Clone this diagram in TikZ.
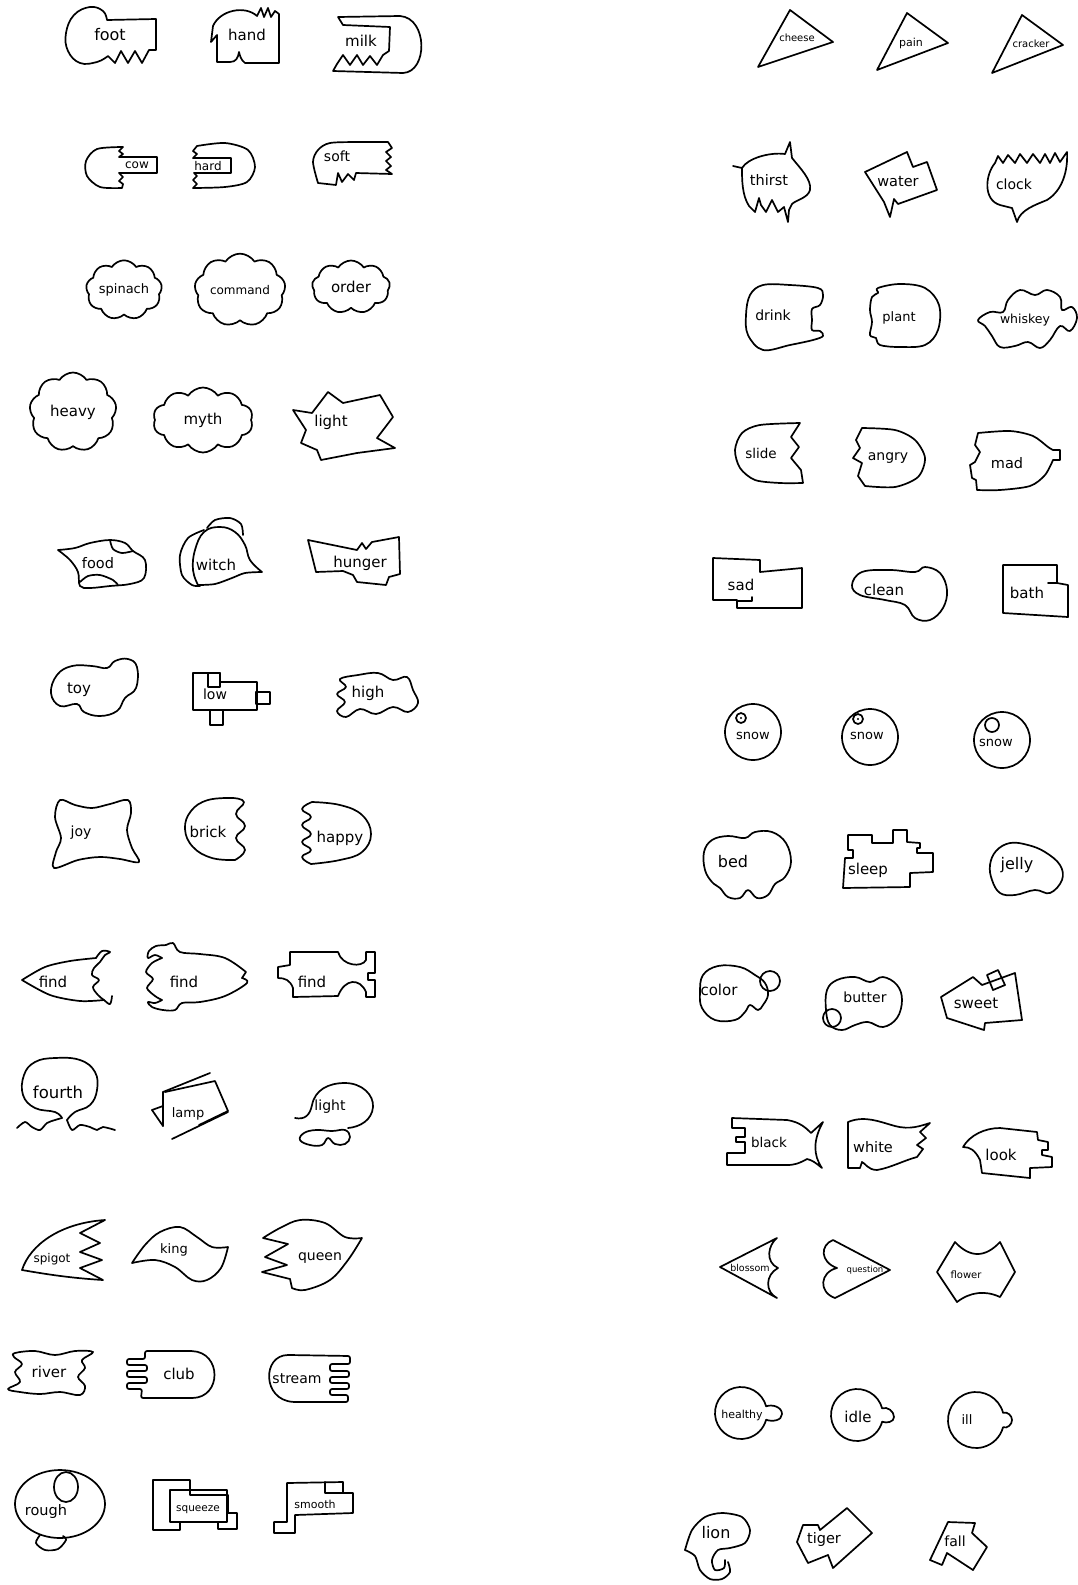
\documentclass[tikz,border=0pt]{standalone}
\usepackage{fontspec}
\newfontfamily\hand{DejaVu Sans}
\usetikzlibrary{shapes.symbols}
\tikzset{
 sh/.style={draw=black, line width=1.7pt, line join=round, line cap=round},
 lab/.style={font=\hand\fontsize{#1}{#1}\selectfont, inner sep=0pt},
 lab/.default=14,
 cl/.style={cloud, sh, cloud puffs=#1, cloud puff arc=115, inner sep=0pt},
}
\begin{document}
\begin{tikzpicture}[x=1pt,y=-1pt]
\useasboundingbox (0,0) rectangle (1078,1585);
\fill[white] (0,0) rectangle (1078,1585);
% ---------------- LEFT COLUMN ----------------
% row 1
\draw[sh] (107,20) -- (156,19) -- (156,50) -- (149,50) -- (142,63) -- (135,51) -- (128,63) -- (121,51) -- (115,63) -- (108,56) -- plot[smooth, tension=0.7] coordinates {(108,56) (97,62) (80,63) (68,51) (66,33) (74,15) (90,7) (103,11) (107,20)};
\node[lab=16] (foot) at (110,35) {foot};
\draw[sh] (217,62) -- (217,35) -- (211,42) -- (213,26) .. controls (220,10) and (245,5) .. (257,16) -- (261,8) -- (264,17) -- (268,8) -- (271,17) -- (275,11) -- (279,14) -- (279,63) -- (245,63) .. controls (241,60) and (240,56) .. (239,52) .. controls (238,58) and (236,62) .. (230,62) -- cycle;
\node[lab=15] (hand) at (247,35) {hand};
\draw[sh] (338,17) -- (400,16) .. controls (428,18) and (428,72) .. (403,73) -- (333,71) -- (337,64) -- (343,55) -- (350,65) -- (357,55) -- (363,65) -- (370,56) -- (377,65) -- (383,55) -- (389,51) -- (390,27) -- (343,25) -- cycle;
\node[lab=15] (milk) at (361,41) {milk};
% row 2
\draw[sh] (123,147) -- (119,151) -- (123,154) -- (119,157) -- (157,157) -- (157,173) -- (119,173) -- (123,177) -- (119,181) -- (123,184) -- (122,188) -- plot[smooth] coordinates {(122,188) (100,187) (87,176) (86,161) (97,149) (123,147)};
\node[lab=12] (cow) at (137,165) {cow};
\draw[sh] plot[smooth] coordinates {(197,146) (225,143) (248,150) (255,167) (247,182) (225,187) (193,188)} -- (197,184) -- (193,180) -- (197,176) -- (194,173) -- (231,173) -- (231,158) -- (193,158) -- (197,154) -- (193,151) -- cycle;
\node[lab=12] (hard2) at (208,166) {hard};
\draw[sh] plot[smooth] coordinates {(318,183) (313,162) (318,150) (330,143) (360,142) (388,142)} -- (392,148) -- (386,152) -- (391,157) -- (386,161) -- (391,166) -- (386,170) -- (392,174) -- (356,173) -- (354,180) -- (348,174) -- (342,182) -- (338,173) -- (336,185) -- cycle;
\node[lab=14] (soft) at (337,156) {soft};
% row 3 clouds
\node[cl=9, lab=13, aspect=1.45, minimum width=75pt, minimum height=52pt] (spinach) at (124,290) {spinach};
\node[cl=9, lab=12, aspect=1.4, minimum width=75pt, minimum height=54pt] (command) at (240,290) {command};
\node[cl=9, lab=15, aspect=1.45, minimum width=78pt, minimum height=53pt] (order) at (351,287) {order};
% row 4
\node[cl=9, lab=15, aspect=1.1, minimum width=87pt, minimum height=79pt] (heavy) at (73,412) {heavy};
\node[cl=10, lab=15, aspect=1.55, minimum width=100pt, minimum height=65pt] (myth) at (203,420) {myth};
\draw[sh] (293,410) -- (312,413) -- (328,392) -- (343,403) -- (380,395) -- (393,417) -- (377,438) -- (395,448) -- (357,453) -- (321,460) -- (317,450) -- (301,443) -- (306,430) -- cycle;
\node[lab=15] (light1) at (331,422) {light};
% row 5
\draw[sh] plot[smooth, tension=0.6] coordinates {(58,550) (75,548) (90,543) (110,540) (125,543) (133,551) (145,560) (144,578) (130,584) (110,586) (90,588) (80,586) (78,572) (70,560) (58,550)};
\draw[sh] plot[smooth] coordinates {(110,540) (113,549) (122,553) (133,551)};
\draw[sh] plot[smooth] coordinates {(80,582) (88,576) (100,575) (113,580) (118,585)};
\node[lab=14.5] (food) at (98,563) {food};
\draw[sh] plot[smooth, tension=0.7] coordinates {(262,572) (250,560) (245,545) (235,532) (220,527) (204,532) (195,550) (193,570) (198,585)} -- plot[smooth] coordinates {(198,585) (215,584) (232,578) (245,573) (262,572)};
\draw[sh] plot[smooth] coordinates {(204,530) (188,538) (180,555) (182,575) (192,585) (200,586)};
\draw[sh] plot[smooth] coordinates {(207,528) (215,520) (230,518) (241,524) (243,535)};
\node[lab=15] (witch) at (216,565) {witch};
\draw[sh] (308,540) -- (357,550) -- (362,543) -- (366,549) -- (372,542) -- (399,537) -- (400,574) -- (389,577) -- (386,585) -- (357,582) -- (353,575) -- (343,571) -- (316,572) -- (313,560) -- cycle;
\node[lab=15] (hunger) at (360,563) {hunger};
% row 6
\draw[sh] plot[smooth cycle, tension=0.7] coordinates {(51,693) (57,675) (72,666) (92,666) (107,668) (115,661) (128,659) (137,667) (136,688) (125,698) (117,711) (100,716) (84,712) (77,704) (60,706)};
\node[lab=15] (toy) at (79,690) {toy};
\draw[sh] (193,673) -- (220,673) -- (220,682) -- (257,682) -- (257,710) -- (193,710) -- cycle;
\draw[sh] (208,673) rectangle (220,687);
\draw[sh] (256,692) rectangle (270,704);
\draw[sh] (210,710) rectangle (223,725);
\node[lab=14] (low) at (215,694) {low};
\draw[sh] plot[smooth cycle, tension=0.65] coordinates {(340,679) (358,675) (378,673) (393,680) (407,677) (413,690) (418,703) (408,712) (393,707) (376,714) (360,709) (346,717) (337,711) (345,702) (337,694) (346,687)};
\node[lab=15] (high) at (368,693) {high};
% row 7
\draw[sh] plot[smooth cycle, tension=0.55] coordinates {(60,800) (75,805) (92,808) (110,804) (128,800) (131,813) (127,830) (132,848) (139,862) (120,859) (100,857) (78,860) (54,868) (56,852) (61,838) (55,817)};
\node[lab=14] (joy) at (81,833) {joy};
\draw[sh] plot[smooth, tension=0.7] coordinates {(235,860) (212,858) (193,847) (185,829) (191,811) (208,800) (233,798)} -- plot[smooth, tension=0.8] coordinates {(233,798) (244,802) (236,814) (245,826) (236,838) (245,850) (235,860)};
\node[lab=15] (brick) at (208,832) {brick};
\draw[sh] plot[smooth, tension=0.7] coordinates {(312,802) (340,805) (362,815) (371,834) (362,852) (340,860) (311,864)} -- plot[smooth, tension=0.8] coordinates {(311,864) (302,857) (311,850) (302,842) (311,834) (302,825) (311,817) (302,809) (312,802)};
\node[lab=15] (happy) at (340,838) {happy};
% row 8
\draw[sh] plot[smooth] coordinates {(104,1000) (80,1001) (50,995) (22,980)} -- plot[smooth] coordinates {(22,980) (45,967) (70,961) (96,958)};
\draw[sh] plot[smooth, tension=0.6] coordinates {(96,958) (102,951) (110,952) (105,955) (100,962) (94,968) (92,975) (99,980) (93,987) (98,995) (104,1000) (110,1004) (112,996)};
\node[lab=15] (find1) at (53,982) {find};
\draw[sh] plot[smooth, tension=0.6] coordinates {(162,958) (155,955) (148,958) (149,951) (156,946) (166,945) (173,943) (180,952) (200,954) (225,958) (246,972)} -- (242,978) -- plot[smooth, tension=0.6] coordinates {(242,978) (247,983) (225,996) (200,1002) (182,1003) (175,1010) (163,1010) (152,1007) (148,1002) (155,1003) (162,1000)};
\draw[sh] plot[smooth] coordinates {(162,958) (152,963) (146,972) (153,979) (147,988) (155,996) (162,1000)};
\node[lab=15] (find2) at (184,982) {find};
\draw[sh] (290,952) -- (338,952) .. controls (342,966) and (362,968) .. (366,960) -- (366,952) -- (375,952) -- (375,973) -- (368,973) -- (368,980) -- (375,980) -- (375,997) -- (366,997) -- (366,992) .. controls (360,978) and (345,978) .. (338,996) -- (293,997) -- (293,988) .. controls (290,980) and (285,978) .. (278,978) -- (278,967) -- (290,965) -- cycle;
\node[lab=15] (find3) at (312,982) {find};
% row 9
\draw[sh] plot[smooth, tension=0.7] coordinates {(62,1118) (55,1112) (35,1108) (23,1095) (24,1075) (35,1062) (55,1058) (80,1060) (95,1072) (97,1090) (90,1105) (75,1112) (67,1120)};
\draw[sh] plot[smooth] coordinates {(62,1118) (55,1120) (47,1123) (40,1130) (32,1127) (25,1122) (17,1128)};
\draw[sh] plot[smooth] coordinates {(67,1120) (72,1130) (80,1125) (90,1127) (97,1130) (103,1127) (115,1130)};
\node[lab=16.5] (fourth) at (58,1092) {fourth};
\draw[sh] (163,1092) -- (210,1073);
\draw[sh] (165,1092) -- (215,1081) -- (228,1111) -- (199,1125);
\draw[sh] (163,1092) -- (163,1126);
\draw[sh] (152,1110) -- (163,1126);
\draw[sh] (152,1110) -- (163,1106);
\draw[sh] (172,1139) -- (228,1112);
\node[lab=13] (lamp) at (188,1114) {lamp};
\draw[sh] (295,1118) .. controls (305,1120) and (310,1115) .. (312,1105) .. controls (315,1090) and (328,1083) .. (345,1083) .. controls (362,1083) and (374,1095) .. (373,1107) .. controls (372,1120) and (360,1127) .. (348,1128);
\draw[sh] plot[smooth cycle, tension=0.7] coordinates {(300,1140) (304,1133) (316,1130) (332,1131) (345,1130) (350,1137) (345,1144) (335,1144) (328,1138) (322,1145) (310,1145)};
\node[lab=14] (light2) at (330,1107) {light};
% row 10
\draw[sh] (22,1270) .. controls (30,1245) and (60,1223) .. (105,1220) -- (80,1233) -- (100,1243) -- (80,1252) -- (102,1260) -- (80,1268) -- (103,1280) .. controls (70,1278) and (45,1274) .. cycle;
\node[lab=12] (spigot) at (52,1259) {spigot};
\draw[sh] plot[smooth, tension=0.6] coordinates {(132,1263) (145,1245) (160,1232) (180,1227) (197,1237) (212,1247) (228,1247)} -- plot[smooth, tension=0.6] coordinates {(228,1247) (221,1268) (207,1280) (192,1280) (175,1267) (155,1260) (132,1263)};
\node[lab=13] (king) at (174,1250) {king};
\draw[sh] (263,1238) -- (288,1244) -- (265,1257) -- (287,1265) -- (262,1272) -- (290,1279) -- (292,1288) -- plot[smooth, tension=0.6] coordinates {(292,1288) (305,1290) (330,1280) (348,1260) (362,1238)} -- plot[smooth, tension=0.6] coordinates {(362,1238) (345,1237) (325,1223) (300,1220) (280,1228) (263,1238)};
\node[lab=14] (queen) at (320,1258) {queen};
% row 11
\draw[sh] plot[smooth cycle, tension=0.6] coordinates {(15,1353) (35,1351) (55,1355) (75,1351) (93,1352) (82,1360) (85,1368) (78,1377) (85,1386) (80,1395) (60,1392) (40,1394) (20,1392) (8,1389) (20,1382) (15,1372) (22,1364) (14,1357)};
\node[lab=15] (river) at (49,1372) {river};
\draw[sh, rounded corners=2pt] (145,1351) -- (190,1351) .. controls (222,1352) and (222,1398) .. (190,1398) -- (141,1398) -- (142,1389) -- (127,1389) -- (127,1383) -- (147,1383) -- (147,1377) -- (127,1377) -- (127,1371) -- (147,1371) -- (147,1365) -- (127,1365) -- (127,1359) -- (145,1359) -- cycle;
\node[lab=15] (club) at (179,1374) {club};
\draw[sh, rounded corners=2pt] (350,1356) -- (290,1355) .. controls (262,1355) and (262,1400) .. (295,1402) -- (348,1402) -- (348,1395) -- (330,1395) -- (330,1389) -- (349,1389) -- (349,1383) -- (330,1383) -- (330,1377) -- (349,1377) -- (349,1371) -- (330,1371) -- (330,1364) -- (350,1364) -- cycle;
\node[lab=14] (stream) at (297,1379) {stream};
% row 12
\draw[sh] (60,1504) ellipse [x radius=45pt, y radius=34pt];
\draw[sh] (66,1487) ellipse [x radius=12pt, y radius=15pt];
\draw[sh] plot[smooth] coordinates {(40,1535) (36,1543) (45,1550) (58,1549) (66,1540) (63,1536)};
\node[lab=14.5] (rough) at (46,1511) {rough};
\draw[sh] (153,1480) -- (190,1480) -- (190,1495) -- (228,1495) -- (228,1513) -- (237,1513) -- (237,1529) -- (218,1529) -- (218,1522) -- (180,1522) -- (180,1530) -- (153,1530) -- cycle;
\draw[sh] (170,1490) rectangle (227,1522);
\node[lab=10.5] (squeeze) at (198,1510) {squeeze};
\draw[sh] (287,1483) -- (343,1482) -- (343,1493) -- (353,1493) -- (353,1513) -- (295,1515) -- (295,1533) -- (274,1533) -- (274,1522) -- (287,1522) -- cycle;
\draw[sh] (325,1482) -- (325,1493) -- (343,1493);
\node[lab=11] (smooth) at (315,1504) {smooth};
% ---------------- RIGHT COLUMN ----------------
% row 1
\draw[sh] (790,10) -- (833,42) -- (758,67) -- cycle;
\node[lab=10] (cheese) at (797,38) {cheese};
\draw[sh] (907,13) -- (948,43) -- (877,70) -- cycle;
\node[lab=11] (pain) at (911,43) {pain};
\draw[sh] (1022,15) -- (1063,45) -- (992,73) -- cycle;
\node[lab=10] (cracker) at (1031,44) {cracker};
% row 2
\draw[sh] (733,166) -- (742,168) .. controls (748,158) and (770,152) .. (785,154) -- (790,142) -- (792,158) .. controls (800,168) and (812,180) .. (810,190) .. controls (808,198) and (796,200) .. (792,204) -- (789,210) -- (788,222) -- (784,207) -- (778,212) -- (772,200) -- (766,212) -- (761,205) -- (759,198) -- (755,212) -- (749,206) .. controls (742,195) and (742,180) .. (742,168);
\node[lab=14.5] (thirst) at (769,180) {thirst};
\draw[sh] (865,172) -- (907,152) -- (913,167) -- (927,162) -- (937,190) -- (898,204) -- (894,199) -- (890,217) -- (884,202) -- cycle;
\node[lab=14.5] (water) at (898,182) {water};
\draw[sh] (995,163) .. controls (985,175) and (983,200) .. (1000,205) -- (1012,208) -- (1017,222) .. controls (1020,210) and (1035,205) .. (1047,200) .. controls (1063,190) and (1068,170) .. (1067,152) -- (1060,162) -- (1055,153) -- (1050,163) -- (1045,154) -- (1040,163) -- (1033,154) -- (1027,163) -- (1020,154) -- (1015,163) -- (1008,155) -- (1003,163) -- (998,156) -- cycle;
\node[lab=14] (clock) at (1014,184) {clock};
% row 3
\draw[sh] plot[smooth cycle, tension=0.6] coordinates {(812,320) (812,309) (820,305) (823,295) (818,288) (790,285) (763,285) (750,295) (746,315) (748,335) (763,350) (790,345) (813,340) (823,336) (820,331) (812,330)};
\node[lab=14] (drink) at (773,315) {drink};
\draw[sh] plot[smooth cycle, tension=0.6] coordinates {(878,288) (900,284) (925,288) (939,305) (938,330) (925,345) (900,347) (880,345) (876,338) (870,335) (872,322) (870,310) (872,297) (878,293)};
\node[lab=13] (plant) at (899,318) {plant};
\draw[sh] plot[smooth cycle, tension=0.65] coordinates {(978,320) (990,312) (1003,312) (1008,300) (1020,290) (1035,295) (1047,290) (1060,297) (1062,310) (1072,307) (1077,318) (1070,331) (1060,326) (1050,340) (1040,348) (1028,342) (1015,346) (1000,347) (992,336) (985,326)};
\node[lab=12.5] (whiskey) at (1025,320) {whiskey};
% row 4
\draw[sh] plot[smooth] coordinates {(803,483) (780,483) (755,480) (740,468) (735,450) (742,433) (760,425) (800,423)} -- (791,437) -- (799,447) -- (791,458) -- (801,470) -- (803,483);
\node[lab=13.5] (slide) at (761,453) {slide};
\draw[sh] plot[smooth] coordinates {(862,428) (895,430) (915,440) (925,458) (918,477) (895,487) (865,486)} -- (858,476) -- (862,463) -- (853,458) -- (860,448) -- (856,440) -- cycle;
\node[lab=14] (angry) at (888,458) {angry};
\draw[sh] plot[smooth] coordinates {(978,433) (1010,431) (1033,436) (1048,447) (1053,450)} -- (1060,450) -- (1060,460) -- (1053,460) -- plot[smooth] coordinates {(1053,460) (1045,475) (1030,486) (1000,490) (977,490)} -- (976,480) -- (972,478) -- (970,465) -- (975,462) -- (980,452) -- (975,445) -- cycle;
\node[lab=14.5] (mad) at (1007,463) {mad};
% row 5
\draw[sh] (713,558) -- (760,560) -- (760,572) -- (802,568) -- (802,608) -- (737,608) -- (737,600) -- (713,600) -- cycle;
\draw[sh] (737,601) -- (752,601) -- (752,597);
\node[lab=15] (sad) at (741,585) {sad};
\draw[sh] plot[smooth cycle, tension=0.65] coordinates {(852,585) (862,572) (890,570) (915,572) (925,567) (940,573) (947,590) (943,608) (930,620) (915,618) (905,605) (885,600) (860,595)};
\node[lab=15] (clean) at (884,590) {clean};
\draw[sh] (1003,565) -- (1057,565) -- (1057,583) -- (1068,585) -- (1068,617) -- (1003,613) -- cycle;
\draw[sh] (1048,583) -- (1057,583);
\node[lab=15] (bath) at (1027,593) {bath};
% row 6
\draw[sh] (753,732) circle[radius=28pt];
\draw[sh] (741,718) circle[radius=5pt];
\fill (741,718) circle[radius=1.2pt];
\node[lab=13] (snow1) at (753,736) {snow};
\draw[sh] (870,737) circle[radius=28pt];
\draw[sh] (858,719) circle[radius=5pt];
\fill (858,719) circle[radius=1.2pt];
\node[lab=13] (snow2) at (867,736) {snow};
\draw[sh] (1002,740) circle[radius=28pt];
\draw[sh] (992,725) circle[radius=7pt];
\node[lab=13] (snow3) at (996,743) {snow};
% row 7
\draw[sh] plot[smooth cycle, tension=0.65] coordinates {(705,870) (704,852) (712,840) (728,836) (745,838) (755,832) (772,832) (786,843) (791,862) (785,877) (775,884) (768,895) (757,898) (748,890) (740,898) (728,897) (720,888) (712,882)};
\node[lab=16] (bed) at (733,862) {bed};
\draw[sh] (843,888) -- (845,858) -- (853,858) -- (853,850) -- (848,850) -- (848,835) -- (872,835) -- (872,843) -- (893,843) -- (893,830) -- (907,830) -- (907,842) -- (920,843) -- (920,848) -- (917,848) -- (917,853) -- (933,853) -- (933,872) -- (910,873) -- (910,887) -- cycle;
\node[lab=15] (sleep) at (868,870) {sleep};
\draw[sh] plot[smooth cycle, tension=0.65] coordinates {(992,880) (990,865) (996,851) (1010,843) (1028,845) (1045,852) (1060,865) (1062,880) (1050,893) (1035,890) (1015,895) (1000,893)};
\node[lab=16] (jelly) at (1017,865) {jelly};
% row 8
\draw[sh] plot[smooth cycle, tension=0.65] coordinates {(700,992) (703,975) (718,966) (740,967) (755,975) (765,983) (768,995) (763,1005) (758,1010) (750,1005) (745,1012) (735,1020) (715,1020) (702,1008)};
\draw[sh] (770,981) circle[radius=10pt];
\node[lab=15] (color) at (719,990) {color};
\draw[sh] plot[smooth cycle, tension=0.65] coordinates {(826,1010) (827,990) (837,980) (855,977) (870,982) (883,977) (897,985) (902,1000) (897,1018) (883,1027) (868,1022) (855,1025) (842,1030) (830,1025)};
\draw[sh] (832,1018) circle[radius=9pt];
\node[lab=14] (butter) at (865,997) {butter};
\draw[sh] (941,997) -- (973,977) -- (982,985) -- (1015,973) -- (1022,1020) -- (985,1023) -- (984,1030) -- (947,1018) -- cycle;
\draw[sh] (987,975) -- (998,970) -- (1005,985) -- (993,990) -- cycle;
\node[lab=15] (sweet) at (976,1003) {sweet};
% row 9
\draw[sh] (732,1118) -- (787,1120) .. controls (800,1122) and (806,1128) .. (811,1133) -- (823,1122) .. controls (813,1140) and (813,1155) .. (822,1168) .. controls (816,1163) and (812,1160) .. (807,1159) .. controls (800,1163) and (795,1165) .. (787,1165) -- (727,1165) -- (727,1153) -- (745,1153) -- (745,1142) -- (736,1142) -- (736,1137) -- (745,1137) -- (745,1128) -- (732,1128) -- cycle;
\node[lab=13.5] (black) at (769,1142) {black};
\draw[sh] (848,1168) -- (848,1122) .. controls (865,1115) and (880,1122) .. (895,1126) .. controls (910,1130) and (920,1126) .. (930,1123) -- (920,1132) -- (926,1138) -- (917,1145) -- (923,1149) -- (917,1157) .. controls (905,1160) and (890,1168) .. (877,1170) .. controls (868,1170) and (865,1163) .. (862,1162) -- (860,1168) -- cycle;
\node[lab=14.5] (white) at (873,1147) {white};
\draw[sh] (963,1147) .. controls (970,1135) and (985,1128) .. (1000,1128) -- (1037,1132) -- (1038,1140) -- (1048,1142) -- (1048,1150) -- (1042,1150) -- (1042,1155) -- (1052,1157) -- (1052,1167) -- (1030,1168) -- (1030,1178) -- (982,1173) -- (980,1160) .. controls (975,1150) and (970,1147) .. cycle;
\node[lab=15] (look) at (1001,1155) {look};
% row 10
\draw[sh] (720,1267) -- (777,1238) .. controls (768,1245) and (765,1262) .. (778,1268) .. controls (765,1275) and (765,1292) .. (777,1298) -- cycle;
\node[lab=9.5] (blossom) at (750,1268) {blossom};
\draw[sh] (833,1240) -- (890,1270) -- (835,1298) .. controls (818,1292) and (820,1272) .. (837,1268) .. controls (820,1262) and (820,1245) .. cycle;
\node[lab=8.5] (question) at (865,1270) {question};
\draw[sh] (937,1272) -- (955,1242) .. controls (970,1258) and (985,1258) .. (1000,1242) -- (1015,1272) -- (1000,1297) .. controls (985,1290) and (970,1292) .. (957,1302) -- cycle;
\node[lab=10] (flower) at (966,1275) {flower};
% row 11
\draw[sh] (741,1413) ++(15:26pt) arc[start angle=15, end angle=345, radius=26pt] to[out=-20,in=-90] (782,1414) to[out=90,in=20] (766.1,1406.3) -- cycle;
\node[lab=11] (healthy) at (742,1415) {healthy};
\draw[sh] (857,1415) ++(15:26pt) arc[start angle=15, end angle=345, radius=26pt] to[out=-20,in=-90] (894,1417) to[out=90,in=20] (882.1,1408.3) -- cycle;
\node[lab=15] (idle) at (858,1417) {idle};
\draw[sh] (976,1420) ++(15:28pt) arc[start angle=15, end angle=345, radius=28pt] to[out=-20,in=-90] (1012,1420) to[out=90,in=20] (1003.0,1412.8) -- cycle;
\node[lab=13] (ill) at (967,1420) {ill};
% row 12
\draw[sh] plot[smooth] coordinates {(685,1550) (692,1530) (705,1517) (722,1513) (742,1517) (750,1530) (745,1543) (730,1548) (718,1550) (712,1560) (715,1570) (724,1568) (725,1560)};
\draw[sh] plot[smooth] coordinates {(685,1550) (695,1556) (700,1570) (710,1579) (722,1579) (730,1572) (728,1562)};
\node[lab=16] (lion) at (716,1533) {lion};
\draw[sh] (797,1542) -- (803,1525) -- (818,1525) -- (820,1530) -- (847,1508) -- (872,1533) -- (833,1568) -- (828,1555) -- (808,1563) -- cycle;
\node[lab=14.5] (tiger) at (824,1539) {tiger};
\draw[sh] (948,1522) -- (975,1523) -- (972,1533) -- (987,1547) -- (973,1570) -- (947,1553) -- (942,1565) -- (930,1560) -- cycle;
\node[lab=14] (fall) at (955,1541) {fall};
\end{tikzpicture}
\end{document}
